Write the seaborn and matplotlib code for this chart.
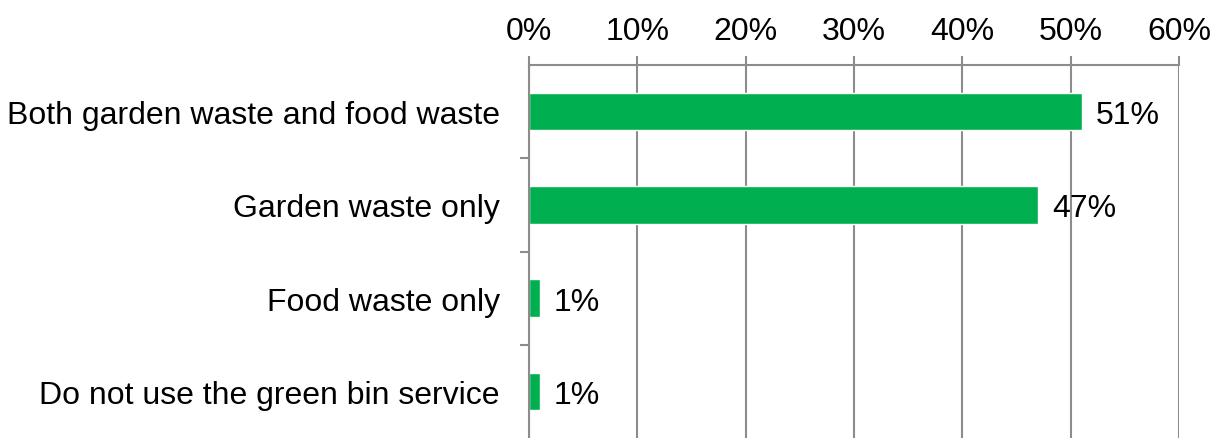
import numpy as np
import pandas as pd
import seaborn as sns
import matplotlib
matplotlib.use('Agg')
import matplotlib.pyplot as plt
from matplotlib.ticker import FixedLocator, PercentFormatter

# values
categories = ['Both garden waste and food waste', 'Garden waste only',
              'Food waste only', 'Do not use the green bin service']
shares = [51, 47, 1, 1]
labels = ['51%', '47%', '1%', '1%']

df = pd.DataFrame({'category': categories, 'share': shares})

sns.set_style('white')
plt.rcParams['font.family'] = ['Liberation Sans', 'DejaVu Sans']

fig = plt.figure(figsize=(12.19, 4.39), dpi=100)
ax = fig.add_axes([529 / 1219, 0.0, 650 / 1219, (439 - 66) / 439])

sns.barplot(data=df, x='share', y='category', orient='h', color='#00B050',
            saturation=1, width=0.4, ax=ax)

grey = '#8c8c8c'
fs = 23
ax.set_xlim(0, 60)
ax.set_ylim(3.5, -0.5)
ax.set_xticks(np.arange(0, 61, 10))
ax.xaxis.set_major_formatter(PercentFormatter(decimals=0))
ax.xaxis.tick_top()
ax.grid(axis='x', color=grey, linewidth=1.5)
ax.set_axisbelow(True)

for s in ['right', 'bottom']:
    ax.spines[s].set_visible(False)
for s in ['top', 'left']:
    ax.spines[s].set_color(grey)
    ax.spines[s].set_linewidth(1.5)

ax.tick_params(axis='x', top=True, bottom=False, direction='out', length=6.5,
               width=1.5, color=grey, pad=7.5, labelsize=fs, labelcolor='black')
ax.tick_params(axis='y', which='major', length=0, pad=21, labelsize=fs,
               labelcolor='black')
ax.yaxis.set_minor_locator(FixedLocator([0.5, 1.5, 2.5]))
ax.tick_params(axis='y', which='minor', left=True, length=6.5, width=1.5,
               color=grey, direction='out')

for i, (v, t) in enumerate(zip(shares, labels)):
    ax.text(v + 1.3, i, t, va='center_baseline', ha='left', fontsize=fs,
            color='black')

ax.set_xlabel('')
ax.set_ylabel('')

fig.savefig('out.png', dpi=100)
